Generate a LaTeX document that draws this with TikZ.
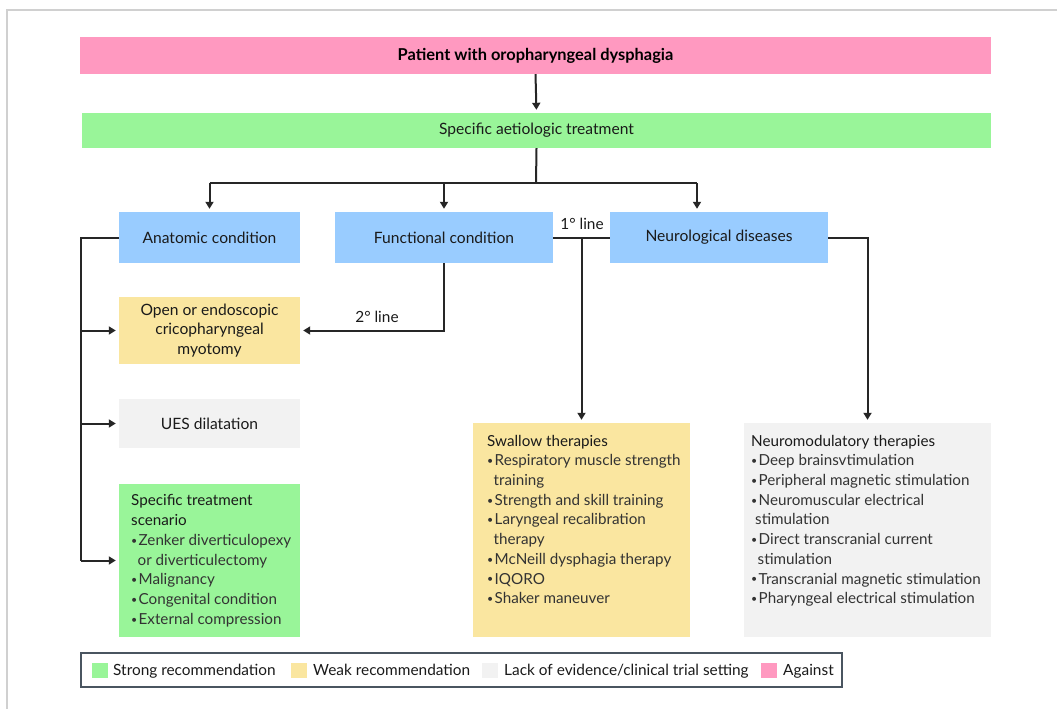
\documentclass[tikz,border=0pt]{standalone}
\usepackage{fontspec}
\usepackage{graphicx}
\setmainfont{Lato}
\usetikzlibrary{arrows.meta}
\definecolor{cpink}{HTML}{FF99C0}
\definecolor{cgreen}{HTML}{99F599}
\definecolor{cblue}{HTML}{99CCFF}
\definecolor{cyellow}{HTML}{FAE6A0}
\definecolor{cgray}{HTML}{F2F2F2}
\definecolor{cline}{HTML}{262626}
\definecolor{ctext}{HTML}{1A1A1A}
\definecolor{citem}{HTML}{333333}
\definecolor{cframe}{HTML}{D0D0D0}
\definecolor{clegend}{HTML}{4A5560}
\newcommand\bul{\makebox[7.5pt][l]{\raisebox{0.15ex}{\scalebox{0.7}{•}}}}
\newcommand\ind{\hspace*{6.5pt}}
\tikzset{
  box/.style={rectangle, inner sep=0pt, text=ctext, font=\fontsize{15.6}{19.7}\selectfont, align=center},
  listtxt/.style={inner sep=0pt, anchor=north west, align=left, text=citem, font=\fontsize{15.2}{19.7}\selectfont},
  conn/.style={draw=cline, line width=2pt},
  arr/.style={conn, -{Triangle[length=7pt,width=8pt]}, shorten >=3pt},
  lbl/.style={inner sep=0pt, anchor=base, text=ctext, font=\fontsize{15.4}{18}\selectfont},
  legsq/.style={rectangle, inner sep=0pt, minimum width=16pt, minimum height=15pt},
  legtxt/.style={inner sep=0pt, anchor=base west, text=ctext, font=\fontsize{15.4}{18}\selectfont}
}
\begin{document}
\begin{tikzpicture}[x=1pt,y=-1pt]
\useasboundingbox (0,0) rectangle (1057,709);
% outer frame (only top and left visible)
\draw[cframe, line width=2pt] (6.5,709) -- (6.5,10) -- (1057,10);

% boxes
\node[box, fill=cpink, minimum width=911pt, minimum height=37pt, font=\fontsize{16.4}{18}\selectfont\bfseries, text=black] (top) at (535.5,55.5) {Patient with oropharyngeal dysphagia};
\node[box, fill=cgreen, minimum width=909pt, minimum height=35pt] (aet) at (536.5,130.5) {Specific aetiologic treatment};
\node[box, fill=cblue, minimum width=181pt, minimum height=51pt] (anat) at (209.5,237.5) {Anatomic condition};
\node[box, fill=cblue, minimum width=218pt, minimum height=51pt] (func) at (444,237.5) {Functional condition};
\node[box, fill=cblue, minimum width=218pt, minimum height=51pt] (neuro) at (719,237.5) {Neurological diseases};
\node[box, fill=cyellow, minimum width=181pt, minimum height=67pt] (myo) at (209.5,330.5) {Open or endoscopic\\cricopharyngeal\\myotomy};
\node[box, fill=cgray, minimum width=181pt, minimum height=49pt] (ues) at (209.5,423.5) {UES dilatation};
\node[box, fill=cgreen, minimum width=181pt, minimum height=153pt] (spec) at (209.5,560.5) {};
\node[box, fill=cyellow, minimum width=217pt, minimum height=214pt] (swal) at (581.5,530) {};
\node[box, fill=cgray, minimum width=247pt, minimum height=214pt] (neurom) at (867.5,530) {};

% list texts
\node[listtxt] (spectxt) at (131,492) {\strut\textcolor{ctext}{Specific treatment}\\\textcolor{ctext}{scenario}\\\bul Zenker diverticulopexy\\\ind or diverticulectomy\\\bul Malignancy\\\bul Congenital condition\\\bul External compression};
\node[listtxt] (swaltxt) at (487,432.2) {\strut\textcolor{ctext}{Swallow therapies}\\\bul Respiratory muscle strength\\\ind training\\\bul Strength and skill training\\\bul Laryngeal recalibration\\\ind therapy\\\bul McNeill dysphagia therapy\\\bul IQORO\\\bul Shaker maneuver};
\node[listtxt] (neurotxt) at (751,432.2) {\strut\textcolor{ctext}{Neuromodulatory therapies}\\\bul Deep brainsvtimulation\\\bul Peripheral magnetic stimulation\\\bul Neuromuscular electrical\\\hspace*{4pt}stimulation\\\bul Direct transcranial current\\\ind stimulation\\\bul Transcranial magnetic stimulation\\\bul Pharyngeal electrical stimulation};

% connectors
\draw[arr] (top.south) -- (aet.north);
\coordinate (j) at (536,183);
\coordinate (jl) at (209.5,183);
\coordinate (jr) at (697,183);
\draw[conn] (aet.south) -- (j);
\draw[conn] (jl) -- (jr);
\draw[arr] (jl) -- (anat.north);
\draw[arr] (444,183) -- (func.north);
\draw[arr] (jr) -- (jr |- neuro.north);

\coordinate (al) at (81,237.5);
\coordinate (ab) at (81,560.5);
\draw[conn] (anat.west) -- (al) -- (ab);
\draw[arr] (81,330.5) -- (myo.west);
\draw[arr] (81,423.5) -- (ues.west);
\draw[arr] (ab) -- (spec.west);

\coordinate (fb) at (444,330.5);
\draw[arr] (func.south) -- (fb) -- (myo.east);
\node[lbl] (l2) at (377,322.7) {2° line};

\coordinate (p1) at (581.5,237.5);
\draw[conn] (func.east) -- (neuro.west);
\draw[arr] (p1) -- (swal.north);
\node[lbl] (l1) at (582,229) {1° line};

\coordinate (nr) at (867.5,237.5);
\draw[arr] (neuro.east) -- (nr) -- (neurom.north);

% legend
\node[draw=clegend, line width=1.5pt, rectangle, inner sep=0pt, minimum width=761pt, minimum height=34pt] (legend) at (461.5,670) {};
\node[legsq, fill=cgreen] (sq1) at (100,670) {};
\node[legtxt] (t1) at (113,675.5) {Strong recommendation};
\node[legsq, fill=cyellow] (sq2) at (299,670) {};
\node[legtxt] (t2) at (313,675.5) {Weak recommendation};
\node[legsq, fill=cgray] (sq3) at (490,670) {};
\node[legtxt] (t3) at (504,675.5) {Lack of evidence/clinical trial setting};
\node[legsq, fill=cpink] (sq4) at (769,670) {};
\node[legtxt] (t4) at (783,675.5) {Against};
\end{tikzpicture}
\end{document}
